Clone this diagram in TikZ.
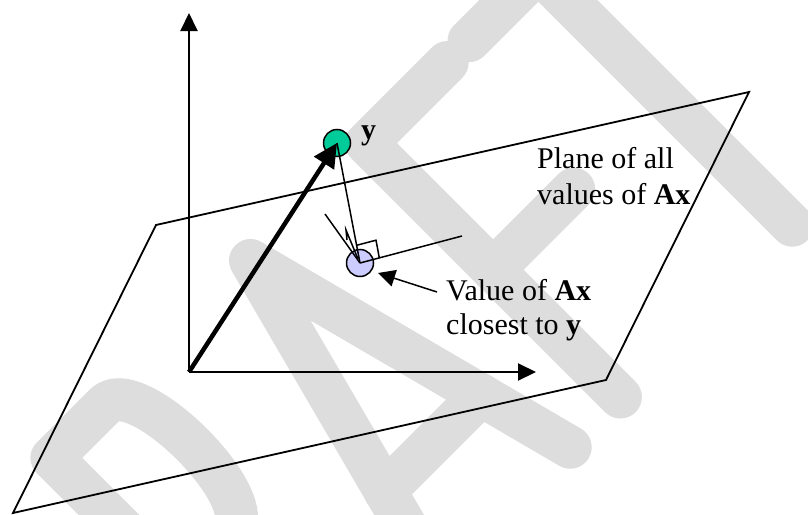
\documentclass[tikz,border=0pt]{standalone}
\usepackage{fontspec}
\setmainfont{Liberation Serif}
\usetikzlibrary{arrows.meta}
\definecolor{wmgray}{RGB}{221,221,221}
\definecolor{ygreen}{RGB}{0,204,153}
\definecolor{xlav}{RGB}{204,204,255}
\tikzset{
  wm/.style={draw=wmgray, line width=43pt, line cap=round, line join=round},
  axisarrow/.style={line width=2pt, -{Triangle[length=18pt,width=17pt]}},
  planeline/.style={line width=1.8pt, line join=miter},
  thinline/.style={line width=1.5pt},
  lbl/.style={font=\fontsize{30}{35}\selectfont, inner sep=0pt, anchor=base west},
  dot/.style={circle, draw, line width=1.5pt, minimum size=27pt, inner sep=0pt},
}
\begin{document}
\begin{tikzpicture}[x=1pt,y=-1pt]
\useasboundingbox (0,0) rectangle (808,514);
\fill[white] (0,0) rectangle (808,514);
% watermark DRAFT
\begin{scope}
\clip (0,0) rectangle (808,514);
\begin{scope}[shift={(235,245)}, x={(0.7071pt,0.7071pt)}, y={(-0.7071pt,0.7071pt)}]
  % R
  \draw[wm] (-280,-380) -- (-280,-21) -- (-205,-21) .. controls (-160,-21) and (-160,-200) .. (-205,-200) -- (-280,-200);
  \draw[wm] (-215,-200) -- (-150,-380);
  % A
  \draw[wm] (-94,-380) -- (0,-22) -- (94,-380);
  \draw[wm] (-68,-280) -- (68,-280);
  % F
  \draw[wm] (279,-21) -- (165,-21) -- (165,-380);
  \draw[wm] (165,-200) -- (279,-200);
  % T
  \draw[wm] (310,-21) -- (500,-21);
  \draw[wm] (408,-21) -- (408,-380);
\end{scope}
\end{scope}
% plane
\draw[planeline] (156,225) -- (749,92) -- (606,380) -- (13,513) -- cycle;
% axes
\coordinate (O) at (189,372);
\coordinate (ytip) at (189,13);
\coordinate (xtip) at (536,372);
\draw[axisarrow] (O) -- (ytip);
\draw[axisarrow] (O) -- (xtip);
% points
\node[dot, fill=ygreen] (Y) at (337,143) {};
\node[dot, fill=xlav] (P) at (360,263) {};
\draw[line width=4.5pt, -{Triangle[length=24pt,width=23pt]}] (O) -- (Y.center);
\draw[thinline] (Y.center) -- (P.center);
\coordinate (R1) at (462,236);
\coordinate (L1) at (325,214);
\draw[thinline] (P.center) -- (R1);
\draw[thinline] (L1) -- (P.center);
\draw[thinline] (347,240) -- (346,230) -- (358,259);
\draw[thinline] (356.6,245.3) -- (376,240.2) -- (379.3,257.9);
% labels
\node[lbl] (ylab) at (361,139.5) {\textbf{y}};
\node[lbl] (pl1) at (537,168) {Plane of all};
\node[lbl] (pl2) at (537,204) {values of \textbf{Ax}};
\node[lbl] (vl1) at (446,300) {Value of \textbf{Ax}};
\node[lbl] (vl2) at (446,334) {closest to \textbf{y}};
\coordinate (vstart) at (437,292);
\draw[thinline, -{Triangle[length=17pt,width=17pt]}] (vstart) -- (378,273);
\end{tikzpicture}
\end{document}
